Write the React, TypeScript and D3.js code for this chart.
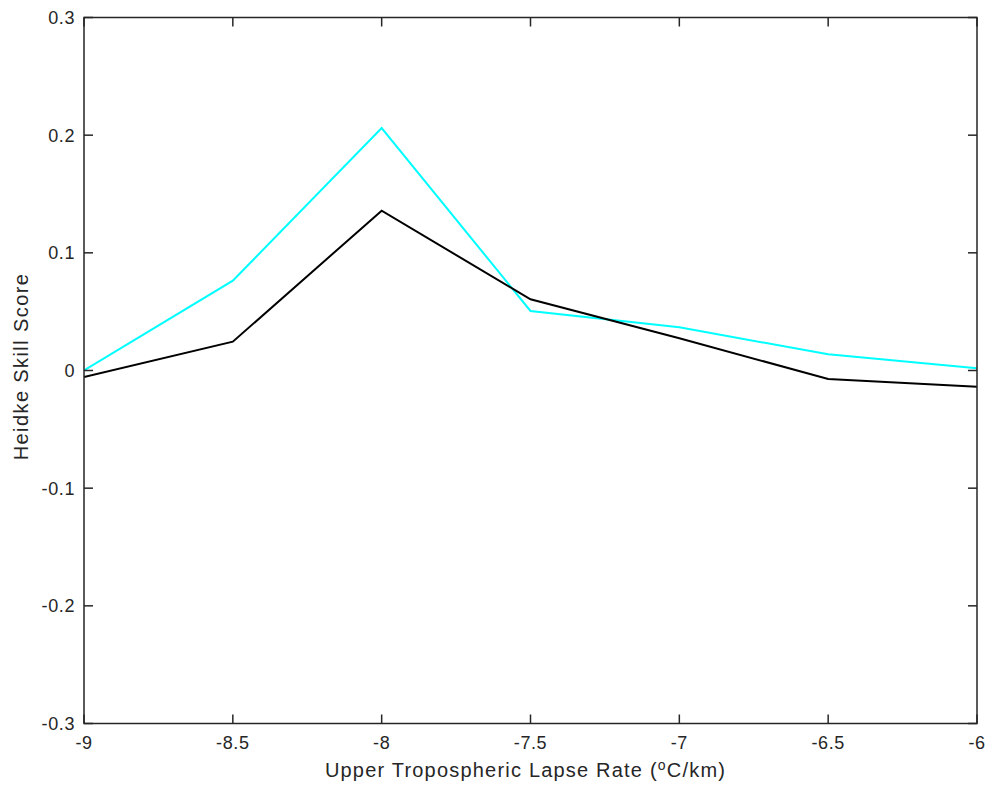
import React from "react";
import * as d3 from "d3";

const lapseRates = [-9, -8.5, -8, -7.5, -7, -6.5, -6];
const cyanSeries = [0.0, 0.0763, 0.206, 0.0506, 0.0367, 0.0138, 0.0019];
const blackSeries = [-0.0055, 0.0245, 0.1358, 0.0605, 0.0274, -0.0072, -0.0138];
const xTicks = [-9, -8.5, -8, -7.5, -7, -6.5, -6];
const yTicks = [-0.3, -0.2, -0.1, 0, 0.1, 0.2, 0.3];

const W = 990;
const H = 790;
const left = 84;
const right = 977;
const top = 17.5;
const bottom = 723.5;
const font = "'Liberation Sans', Arial, Helvetica, sans-serif";

export default function App() {
  const x = d3.scaleLinear().domain([-9, -6]).range([left, right]);
  const y = d3.scaleLinear().domain([-0.3, 0.3]).range([bottom, top]);
  const line = d3
    .line<number>()
    .x((_, i) => x(lapseRates[i]))
    .y((d) => y(d));
  const axisColor = "#262626";
  const tickLen = 9;
  const fmt = (v: number) => (v === 0 ? "0" : String(+v.toFixed(1)));
  return (
    <svg
      width={W}
      height={H}
      style={{ position: "absolute", left: 0, top: 0, background: "#fff" }}
      fontFamily={font}
    >
      <rect x={0} y={0} width={W} height={H} fill="#fff" />
      <defs>
        <clipPath id="plotclip">
          <rect x={left} y={top} width={right - left} height={bottom - top} />
        </clipPath>
      </defs>
      <g clipPath="url(#plotclip)">
        <path d={line(cyanSeries) || ""} fill="none" stroke="#00ffff" strokeWidth={2} />
        <path d={line(blackSeries) || ""} fill="none" stroke="#000" strokeWidth={2} />
      </g>
      {xTicks.map((t) => (
        <g key={"x" + t}>
          <line x1={x(t)} x2={x(t)} y1={bottom} y2={bottom - tickLen} stroke={axisColor} strokeWidth={1.5} />
          <line x1={x(t)} x2={x(t)} y1={top} y2={top + tickLen} stroke={axisColor} strokeWidth={1.5} />
          <text x={x(t)} y={748.5} textAnchor="middle" fontSize={18} letterSpacing={0.6} fill={axisColor}>
            {fmt(t)}
          </text>
        </g>
      ))}
      {yTicks.map((t) => (
        <g key={"y" + t}>
          <line x1={left} x2={left + tickLen} y1={y(t)} y2={y(t)} stroke={axisColor} strokeWidth={1.5} />
          <line x1={right} x2={right - tickLen} y1={y(t)} y2={y(t)} stroke={axisColor} strokeWidth={1.5} />
          <text x={75} y={y(t)} dy="0.36em" textAnchor="end" fontSize={18} letterSpacing={0.6} fill={axisColor}>
            {fmt(t)}
          </text>
        </g>
      ))}
      <rect
        x={left}
        y={top}
        width={right - left}
        height={bottom - top}
        fill="none"
        stroke={axisColor}
        strokeWidth={1.5}
      />
      <text x={(left + right) / 2 - 5} y={777} textAnchor="middle" fontSize={20} letterSpacing={1.2} fill={axisColor}>
        Upper Tropospheric Lapse Rate (
        <tspan dy={-7} fontSize={14}>o</tspan>
        <tspan dy={7}>C/km)</tspan>
      </text>
      <text
        transform={`translate(28, ${(top + bottom) / 2 - 4}) rotate(-90)`}
        textAnchor="middle"
        fontSize={20}
        letterSpacing={1.4}
        fill={axisColor}
      >
        Heidke Skill Score
      </text>
    </svg>
  );
}
